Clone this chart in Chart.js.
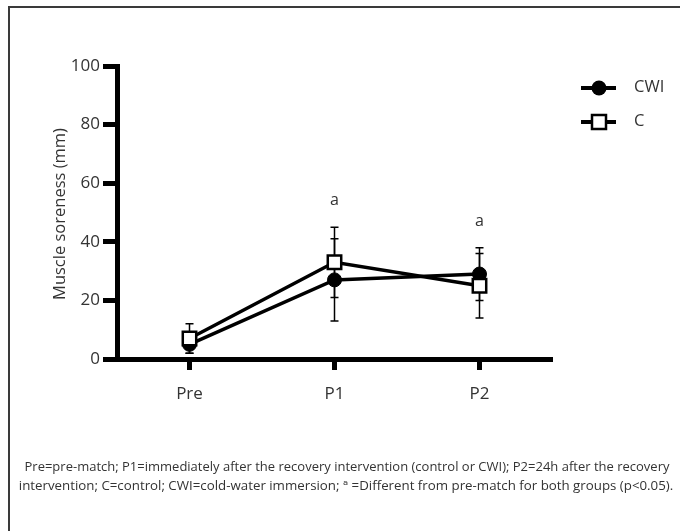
<!DOCTYPE html>
<html>
<head>
<meta charset="utf-8">
<script src="https://cdn.jsdelivr.net/npm/chart.js@4.4.0/dist/chart.umd.min.js"></script>
<style>
  html, body { margin: 0; padding: 0; background: #fff; overflow: hidden; }
</style>
</head>
<body>
<canvas id="chartCanvas" width="680" height="531"></canvas>
<script>
// Datos
const timePoints = ["Pre", "P1", "P2"];
const cwiMean = [5, 27, 29];
const cwiSd = [3, 14, 9];
const cMean = [7, 33, 25];
const cSd = [5, 12, 11];
const sigLabels = ["", "a", "a"];
const sigValues = [null, 54, 47];
const yTicks = [0, 20, 40, 60, 80, 100];
const yTitle = "Muscle soreness (mm)";
const footLines = [
  "Pre=pre-match; P1=immediately after the recovery intervention (control or CWI); P2=24h after the recovery",
  "intervention; C=control; CWI=cold-water immersion; \u1d43 =Different from pre-match for both groups (p<0.05)."
];

const FONT = "'Open Sans', 'DejaVu Sans', sans-serif";
const TEXT = "#333";

// Marco de la figura
const frame = {
  id: "frame",
  beforeDraw(chart) {
    const ctx = chart.ctx;
    ctx.save();
    ctx.strokeStyle = "#3a3a3a";
    ctx.lineWidth = 2;
    ctx.beginPath();
    ctx.moveTo(9, 531); ctx.lineTo(9, 7); ctx.lineTo(680, 7);
    ctx.stroke();
    ctx.restore();
  }
};

// Barras de error (detras de los marcadores)
const errorBars = {
  id: "errorBars",
  beforeDatasetsDraw(chart) {
    const ctx = chart.ctx;
    const x = chart.scales.x, y = chart.scales.y;
    const sets = [[cMean, cSd], [cwiMean, cwiSd]];
    ctx.save();
    ctx.strokeStyle = "#000";
    ctx.lineWidth = 1.5;
    sets.forEach(([m, s]) => {
      m.forEach((v, i) => {
        const px = x.getPixelForValue(i);
        const top = y.getPixelForValue(v + s[i]);
        const bot = y.getPixelForValue(v - s[i]);
        ctx.beginPath();
        ctx.moveTo(px, top); ctx.lineTo(px, bot);
        ctx.moveTo(px - 4, top); ctx.lineTo(px + 4, top);
        ctx.moveTo(px - 4, bot); ctx.lineTo(px + 4, bot);
        ctx.stroke();
      });
    });
    ctx.restore();
  }
};

// Letras de significancia, leyenda, titulo del eje y nota al pie
const extras = {
  id: "extras",
  afterDraw(chart) {
    const ctx = chart.ctx;
    const x = chart.scales.x, y = chart.scales.y;
    ctx.save();
    ctx.fillStyle = TEXT;
    ctx.font = "16px " + FONT;
    ctx.textAlign = "center";
    ctx.textBaseline = "middle";
    sigLabels.forEach((t, i) => {
      if (t) ctx.fillText(t, x.getPixelForValue(i), y.getPixelForValue(sigValues[i]));
    });

    // eje y
    ctx.save();
    ctx.font = "16.5px " + FONT;
    ctx.translate(60, 214);
    ctx.rotate(-Math.PI / 2);
    ctx.fillText(yTitle, 0, 0);
    ctx.restore();

    // leyenda
    const items = [
      { label: "CWI", y: 88, style: "circle" },
      { label: "C", y: 122, style: "rect" }
    ];
    ctx.font = "16.5px " + FONT;
    items.forEach(it => {
      ctx.strokeStyle = "#000";
      ctx.lineWidth = 4;
      ctx.beginPath();
      ctx.moveTo(581, it.y); ctx.lineTo(616, it.y);
      ctx.stroke();
      if (it.style === "circle") {
        ctx.fillStyle = "#000";
        ctx.beginPath();
        ctx.arc(599, it.y, 7.5, 0, Math.PI * 2);
        ctx.fill();
      } else {
        ctx.fillStyle = "#fff";
        ctx.lineWidth = 2.5;
        ctx.fillRect(592, it.y - 7, 14, 14);
        ctx.strokeRect(592, it.y - 7, 14, 14);
      }
      ctx.fillStyle = TEXT;
      ctx.textAlign = "left";
      ctx.fillText(it.label, 634, it.y - 1);
    });

    // nota
    ctx.font = "13.3px " + FONT;
    ctx.textAlign = "center";
    ctx.fillText(footLines[0], 347, 467, 645);
    ctx.fillText(footLines[1], 346, 486, 664);
    ctx.restore();
  }
};

const ctx = document.getElementById("chartCanvas").getContext("2d");

const chart = new Chart(ctx, {
  type: "line",
  data: {
    labels: timePoints,
    datasets: [
      {
        label: "C",
        data: cMean,
        borderColor: "#000",
        borderWidth: 3.5,
        pointStyle: "rect",
        pointRadius: 9.5,
        pointBorderWidth: 2.5,
        pointBackgroundColor: "#fff",
        pointBorderColor: "#000",
        tension: 0,
        fill: false
      },
      {
        label: "CWI",
        data: cwiMean,
        borderColor: "#000",
        borderWidth: 3.5,
        pointStyle: "circle",
        pointRadius: 7,
        pointBorderWidth: 1,
        pointBackgroundColor: "#000",
        pointBorderColor: "#000",
        tension: 0,
        fill: false
      }
    ]
  },
  options: {
    responsive: false,
    animation: false,
    devicePixelRatio: 1,
    layout: { padding: { top: 66, right: 128, bottom: 132, left: 0 } },
    plugins: { legend: { display: false }, tooltip: { enabled: false } },
    scales: {
      x: {
        offset: true,
        afterFit: s => { s.height = 40; },
        grid: { drawOnChartArea: false, drawTicks: true, tickLength: 11, tickWidth: 5, tickColor: "#000" },
        border: { display: true, width: 5, color: "#000" },
        ticks: { padding: 14, color: TEXT, font: { size: 17, family: FONT } }
      },
      y: {
        min: 0,
        max: 100,
        afterFit: s => { s.width = 117; },
        afterBuildTicks: s => { s.ticks = yTicks.map(v => ({ value: v })); },
        grid: { drawOnChartArea: false, drawTicks: true, tickLength: 14, tickWidth: 5, tickColor: "#000" },
        border: { display: true, width: 5, color: "#000" },
        ticks: { padding: 3, color: TEXT, font: { size: 17, family: FONT } }
      }
    }
  },
  plugins: [frame, errorBars, extras]
});
</script>
</body>
</html>
